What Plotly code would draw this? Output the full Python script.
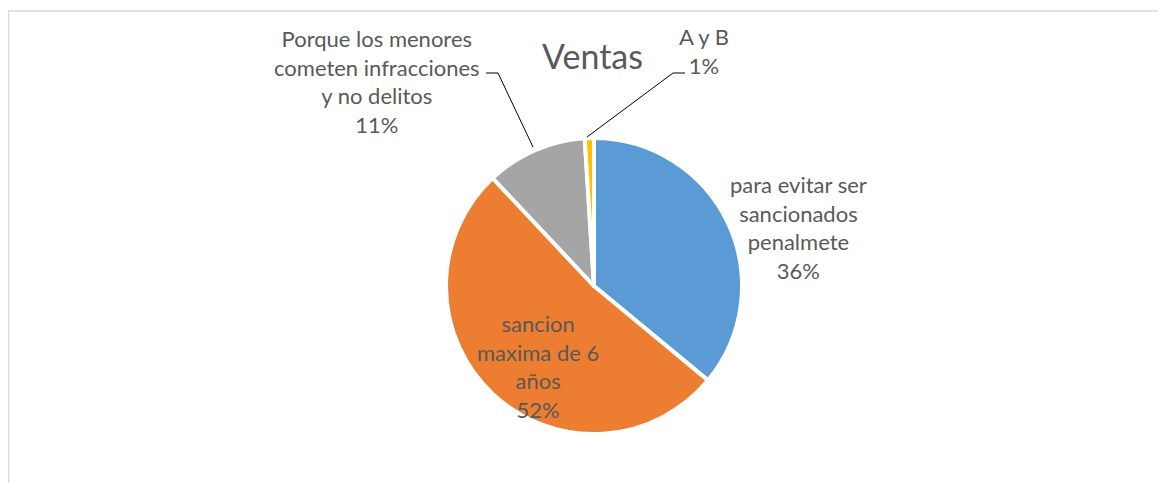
import plotly.graph_objects as go

categories = ["para evitar ser sancionados penalmete", "sancion maxima de 6 años",
              "Porque los menores cometen infracciones y no delitos", "A y B"]
label_texts = ["para evitar ser<br>sancionados<br>penalmete", "sancion<br>maxima de 6<br>años",
               "Porque los menores<br>cometen infracciones<br>y no delitos", "A y B"]
values = [36, 52, 11, 1]
colors = ["#5B9BD5", "#ED7D31", "#A5A5A5", "#FFC000"]
title = "Ventas"

OFF = 8  # page body margin
W, H = 1166 - OFF, 483 - OFF
def px(x): return (x - OFF) / W
def py(y): return 1 - (y - OFF) / H

fig = go.Figure(go.Pie(
    labels=categories, values=values, sort=False, direction="clockwise", rotation=0,
    marker=dict(colors=colors, line=dict(color="white", width=4)),
    textinfo="none", hoverinfo="label+percent", showlegend=False,
    domain=dict(x=[px(446), px(742)], y=[py(434), py(138)]),
))

total = sum(values)
pcts = [f"{round(v / total * 100)}%" for v in values]
font = dict(family="Lato, Calibri, sans-serif", size=22, color="#595959")
label_pos = [(798, 227), (538, 366), (377, 82), (704, 51)]
annotations = []
for txt, p, (x, y) in zip(label_texts, pcts, label_pos):
    annotations.append(dict(text=f"{txt}<br>{p}", x=px(x), y=py(y), xref="paper", yref="paper",
                            showarrow=False, xanchor="center", yanchor="middle", font=font,
                            align="center"))
annotations.append(dict(text=title, x=px(592), y=py(55), xref="paper", yref="paper", showarrow=False,
                        xanchor="center", yanchor="middle",
                        font=dict(family="Lato, Calibri, sans-serif", size=34, color="#595959")))

def path(points):
    return "M " + " L ".join(f"{px(x)},{py(y)}" for x, y in points)

shapes = [
    # chart area border (left and top edges visible)
    dict(type="path", xref="paper", yref="paper", path=path([(8.5, 490), (8.5, 11), (1175, 11)]),
         line=dict(color="#D9D9D9", width=1.5)),
    # leader lines
    dict(type="path", xref="paper", yref="paper", path=path([(533, 147), (498, 73), (486, 73)]),
         line=dict(color="black", width=1)),
    dict(type="path", xref="paper", yref="paper", path=path([(587, 137), (673, 73), (685, 73)]),
         line=dict(color="black", width=1)),
]

fig.update_layout(width=W, height=H, margin=dict(l=0, r=0, t=0, b=0),
                  paper_bgcolor="white", plot_bgcolor="white",
                  annotations=annotations, shapes=shapes)
fig.write_html("out.html")
